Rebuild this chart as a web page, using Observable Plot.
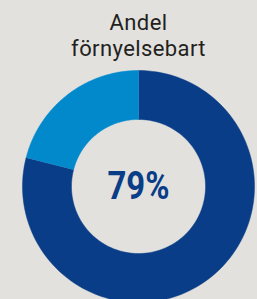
<!DOCTYPE html>
<html>
<head>
<meta charset="utf-8">
<script src="https://cdn.jsdelivr.net/npm/d3@7"></script>
<script src="https://cdn.jsdelivr.net/npm/@observablehq/plot@0.6"></script>
<style>
  html, body { margin: 0; padding: 0; background: #e2e1dd; width: 257px; height: 299px; overflow: hidden; }
  #title { font-family: Roboto, "Open Sans", sans-serif; font-size: 22px; line-height: 26px; letter-spacing: 0.4px; color: #231f20; text-align: center; padding-top: 10px; width: 257px; margin-left: 10px; box-sizing: border-box; height: 60px; }
</style>
</head>
<body>
<div id="title">Andel<br>förnyelsebart</div>
<div id="chart"></div>
<script>
const categories = ["Förnybart", "Ej förnybart"];
const values = [79, 21];
const colors = ["#0a3d87", "#0189cc"];
const centerLabel = "79%";

const outerR = 1;
const innerR = 0.578;
const pie = d3.pie().sort(null).value(d => d.value);
const arcs = pie(categories.map((c, i) => ({category: c, value: values[i]})));

const ring = [];
for (const a of arcs) {
  const n = 120;
  for (let k = 0; k <= n; k++) {
    const t = a.startAngle + (a.endAngle - a.startAngle) * k / n;
    ring.push({category: a.data.category, x: outerR * Math.sin(t), y: outerR * Math.cos(t)});
  }
  for (let k = n; k >= 0; k--) {
    const t = a.startAngle + (a.endAngle - a.startAngle) * k / n;
    ring.push({category: a.data.category, x: innerR * Math.sin(t), y: innerR * Math.cos(t)});
  }
}

const chart = Plot.plot({
  width: 257,
  height: 239,
  style: {background: "transparent", overflow: "visible"},
  x: {domain: [-1, 1], range: [22, 254], axis: null},
  y: {domain: [-1, 1], range: [242, 10], axis: null},
  color: {domain: categories, range: colors},
  marks: [
    Plot.line(ring, {x: "x", y: "y", z: "category", fill: "category", stroke: "category", strokeWidth: 0.5, curve: "linear"}),
    Plot.text([centerLabel], {x: () => 0, y: () => 0, text: d => d, fill: colors[0], fontSize: 38, fontWeight: "bold", fontFamily: "Roboto, sans-serif", className: "center-label"})
  ]
});
chart.querySelectorAll(".center-label text").forEach(t => {
  t.setAttribute("textLength", "62");
  t.setAttribute("lengthAdjust", "spacingAndGlyphs");
});
document.getElementById("chart").appendChild(chart);
</script>
</body>
</html>
